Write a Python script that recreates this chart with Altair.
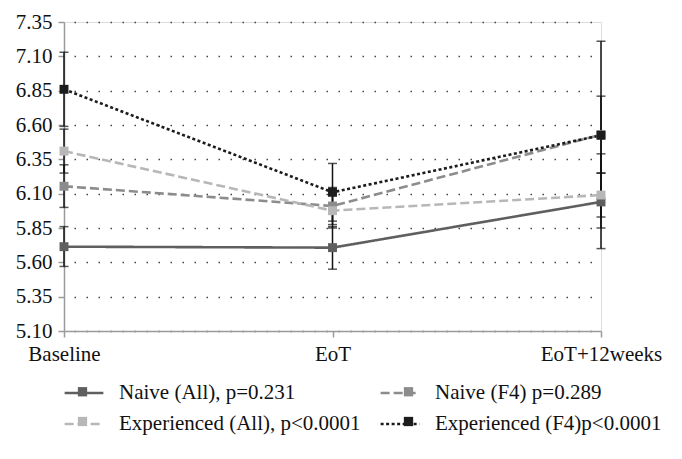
import altair as alt
import pandas as pd

categories = ["Baseline", "EoT", "EoT+12weeks"]
series = ["Naive (All), p=0.231", "Naive (F4) p=0.289",
          "Experienced (All), p<0.0001", "Experienced (F4)p<0.0001"]

naive_all = [5.714, 5.707, 6.04]
naive_f4 = [6.154, 6.01, 6.53]
exp_all = [6.41, 5.976, 6.09]
exp_f4 = [6.86, 6.11, 6.525]

naive_all_lo = [5.57, 5.55, 5.70]
naive_all_hi = [5.86, 5.86, 6.39]
naive_f4_lo = [6.00, 5.875, 6.25]
naive_f4_hi = [6.31, 6.145, 6.81]
exp_all_lo = [6.25, 5.85, 5.93]
exp_all_hi = [6.57, 6.10, 6.25]
exp_f4_lo = [6.59, 5.90, 5.85]
exp_f4_hi = [7.13, 6.32, 7.21]

y_ticks = [5.10, 5.35, 5.60, 5.85, 6.10, 6.35, 6.60, 6.85, 7.10, 7.35]

colors = ["#5f5f5f", "#8c8c8c", "#b7b7b7", "#1c1c1c"]
dashes = [[1, 0], [9, 4], [9, 4], [3, 2.5]]

vals = [naive_all, naive_f4, exp_all, exp_f4]
los = [naive_all_lo, naive_f4_lo, exp_all_lo, exp_f4_lo]
his = [naive_all_hi, naive_f4_hi, exp_all_hi, exp_f4_hi]

markers = [s + " " for s in series]  # separate domain so the marker legend is not merged

rows = []
for s, m, v, lo, hi in zip(series, markers, vals, los, his):
    for c, a, b, d in zip(categories, v, lo, hi):
        rows.append({"cat": c, "series": s, "marker": m, "value": a, "lo": b, "hi": d})
df = pd.DataFrame(rows)

caps = pd.concat([
    df[["cat", "series", "lo"]].rename(columns={"lo": "cap"}),
    df[["cat", "series", "hi"]].rename(columns={"hi": "cap"}),
])

font = "Liberation Serif"
xenc = alt.X("cat:N", sort=categories, scale=alt.Scale(type="point", padding=0),
             axis=alt.Axis(title=None, labelAngle=0, labelFontSize=21, labelFont=font,
                           labelColor="#111", labelPadding=6, tickSize=6,
                           tickColor="#9a9a9a", domainColor="#9a9a9a", domainWidth=1.5,
                           tickWidth=1.5, grid=False))
yscale = alt.Scale(domain=[5.10, 7.35], nice=False, zero=False)
yaxis = alt.Axis(title=None, values=y_ticks, tickCount=20, labelOverlap=False,
                 format=".2f", labelFontSize=21, labelFont=font,
                 labelColor="#111", tickSize=6, tickColor="#9a9a9a", tickWidth=1.5,
                 domainColor="#9a9a9a", domainWidth=1.5, labelPadding=6,
                 grid=True, gridColor="#444", gridWidth=1.5, gridDash=[1.5, 10.5],
                 gridDashOffset=-10)

leg_common = dict(title=None, orient="none", legendX=-1, legendY=350,
                  columns=2, direction="horizontal",
                  labelFont=font, labelFontSize=21, labelColor="#111",
                  symbolSize=1500, labelOffset=14, rowPadding=-12,
                  labelLimit=400)

color = alt.Color("series:N", sort=series,
                  scale=alt.Scale(domain=series, range=colors),
                  legend=alt.Legend(symbolType="M-1,0H1", symbolStrokeWidth=2.5,
                                    columnPadding=14, **leg_common))
dash = alt.StrokeDash("series:N", sort=series,
                      scale=alt.Scale(domain=series, range=dashes), legend=None)
fill = alt.Fill("marker:N", sort=markers,
                scale=alt.Scale(domain=markers, range=colors),
                legend=alt.Legend(symbolType="M-0.24,-0.24H0.24V0.24H-0.24Z",
                                  symbolStrokeWidth=0, labelExpr="''",
                                  columnPadding=273, **leg_common))

err = alt.Chart(df).mark_rule(color="#111", strokeWidth=1.5).encode(
    x=xenc, y=alt.Y("lo:Q", scale=yscale, axis=yaxis), y2="hi:Q")
capm = alt.Chart(caps).mark_tick(color="#111", thickness=1.5, size=9).encode(
    x=xenc, y=alt.Y("cap:Q", scale=yscale, axis=yaxis))
lines = alt.Chart(df).mark_line(strokeWidth=2.6).encode(
    x=xenc, y=alt.Y("value:Q", scale=yscale, axis=yaxis), color=color, strokeDash=dash,
    order=alt.Order("cat:N"))
pts = alt.Chart(df).mark_point(shape="square", filled=True, size=80, opacity=1).encode(
    x=xenc, y=alt.Y("value:Q", scale=yscale, axis=yaxis), fill=fill)

chart = alt.layer(err, capm, lines, pts).properties(
    width=537, height=309,
    autosize=alt.AutoSizeParams(type="none"),
    padding={"left": 56, "top": 14, "right": 73, "bottom": 120},
).configure_view(stroke=None).configure(background="white")

chart.save("out.html", embed_options={"renderer": "svg", "actions": False})
